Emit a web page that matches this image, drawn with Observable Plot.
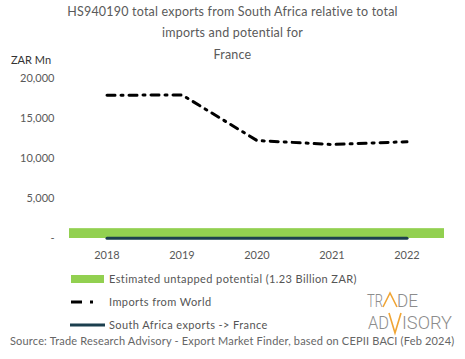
<!DOCTYPE html>
<html>
<head>
<meta charset="utf-8">
<script src="https://cdn.jsdelivr.net/npm/d3@7"></script>
<script src="https://cdn.jsdelivr.net/npm/@observablehq/plot@0.6"></script>
<style>
  html, body { margin: 0; padding: 0; background: #fff; }
  #wrap { position: relative; width: 465px; height: 359px; font-family: Lato, "Open Sans", sans-serif; color: #595959; overflow: hidden; }
  .abs { position: absolute; white-space: nowrap; }
  .title { left: 0; width: 465px; text-align: center; font-size: 12.5px; color: #5a5a5a; letter-spacing: 0.2px; }
  #plot { position: absolute; left: 0; top: 60px; }
</style>
</head>
<body>
<div id="wrap">
  <div class="abs title" style="top:4px;">HS940190 total exports from South Africa relative to total</div>
  <div class="abs title" style="top:25px;">imports and potential for</div>
  <div class="abs title" style="top:47px;">France</div>
  <div class="abs" style="left:11px; top:53px; font-size:11px; color:#333;">ZAR Mn</div>
  <div id="plot"></div>
  <svg class="abs" id="legend" style="left:0; top:268px;" width="360" height="66"></svg>
  <svg class="abs" style="left:360px; top:284px;" width="100" height="52">
    <g font-family="Roboto" font-weight="300" font-size="18.5" fill="#8c8c8c">
      <text x="7" y="23" textLength="16" lengthAdjust="spacingAndGlyphs">TR</text>
      <path d="M23,23 L30,9 L37,23" fill="none" stroke="#f0a535" stroke-width="1.6"/>
      <text x="37" y="23" textLength="21" lengthAdjust="spacingAndGlyphs">DE</text>
      <text x="8" y="45" textLength="21" lengthAdjust="spacingAndGlyphs">AD</text>
      <path d="M29,29 L35,49 L41,29" fill="none" stroke="#f0a535" stroke-width="1.6"/>
      <text x="42" y="45" textLength="50" lengthAdjust="spacingAndGlyphs">ISORY</text>
    </g>
  </svg>
  <div class="abs" style="left:10px; top:334px; font-size:11px; color:#666; letter-spacing:0.18px;">Source: Trade Research Advisory - Export Market Finder, based on CEPII BACI (Feb 2024)</div>
</div>
<script>
const years = ["2018", "2019", "2020", "2021", "2022"];
const importsWorld = [17900, 17950, 12250, 11750, 12100];
const saExports = [40, 40, 40, 40, 40];
const potential = [1230, 1230, 1230, 1230, 1230];
const yTicks = [0, 5000, 10000, 15000, 20000];
const seriesNames = ["Estimated untapped potential (1.23 Billion ZAR)", "Imports from World", "South Africa exports -> France"];
const colors = {potential: "#92d050", imports: "#000000", exports: "#1b3f4e"};

const rows = years.map((y, i) => ({year: y, imports: importsWorld[i], exports: saExports[i], potential: potential[i]}));

const chart = Plot.plot({
  width: 465,
  height: 210,
  marginLeft: 68,
  marginRight: 20,
  marginTop: 18,
  marginBottom: 32,
  style: {fontFamily: "Lato, 'Open Sans', sans-serif", fontSize: "11px", color: "#595959", background: "transparent"},
  x: {type: "band", domain: years, padding: 0, label: null, tickSize: 0, tickPadding: 13},
  y: {domain: [0, 20000], ticks: yTicks, label: null, tickSize: 0, tickPadding: 14,
      tickFormat: d => d === 0 ? "-" : d3.format(",")(d)},
  marks: [
    Plot.ruleY(yTicks.filter(d => d > 0), {x1: -0.3, stroke: "#c8c8c8", strokeDasharray: "4,3", strokeWidth: 1}),
    Plot.barY(rows, {x: "year", y: "potential", fill: colors.potential, inset: 0}),
    Plot.line(rows, {x: "year", y: "exports", stroke: colors.exports, strokeWidth: 3}),
    Plot.line(rows, {x: "year", y: "imports", stroke: colors.imports, strokeWidth: 3, strokeDasharray: "8,6,2,6"})
  ]
});
document.getElementById("plot").appendChild(chart);

// legend
const leg = d3.select("#legend");
const items = [
  {name: seriesNames[0], type: "rect", color: colors.potential},
  {name: seriesNames[1], type: "dash", color: colors.imports},
  {name: seriesNames[2], type: "line", color: colors.exports}
];
items.forEach((it, i) => {
  const cy = 11 + i * 23;
  if (it.type === "rect") leg.append("rect").attr("x", 71).attr("y", cy - 4).attr("width", 33).attr("height", 8).attr("fill", it.color);
  if (it.type === "dash") {
    leg.append("line").attr("x1", 71).attr("x2", 82).attr("y1", cy).attr("y2", cy).attr("stroke", it.color).attr("stroke-width", 3);
    leg.append("line").attr("x1", 90).attr("x2", 93).attr("y1", cy).attr("y2", cy).attr("stroke", it.color).attr("stroke-width", 3);
  }
  if (it.type === "line") leg.append("line").attr("x1", 70).attr("x2", 105).attr("y1", cy).attr("y2", cy).attr("stroke", it.color).attr("stroke-width", 3);
  leg.append("text").attr("x", 109).attr("y", cy + 4).attr("font-size", 11).attr("fill", "#555")
    .attr("letter-spacing", "0.4px").attr("font-family", "Lato, 'Open Sans', sans-serif").text(it.name);
});
</script>
</body>
</html>
